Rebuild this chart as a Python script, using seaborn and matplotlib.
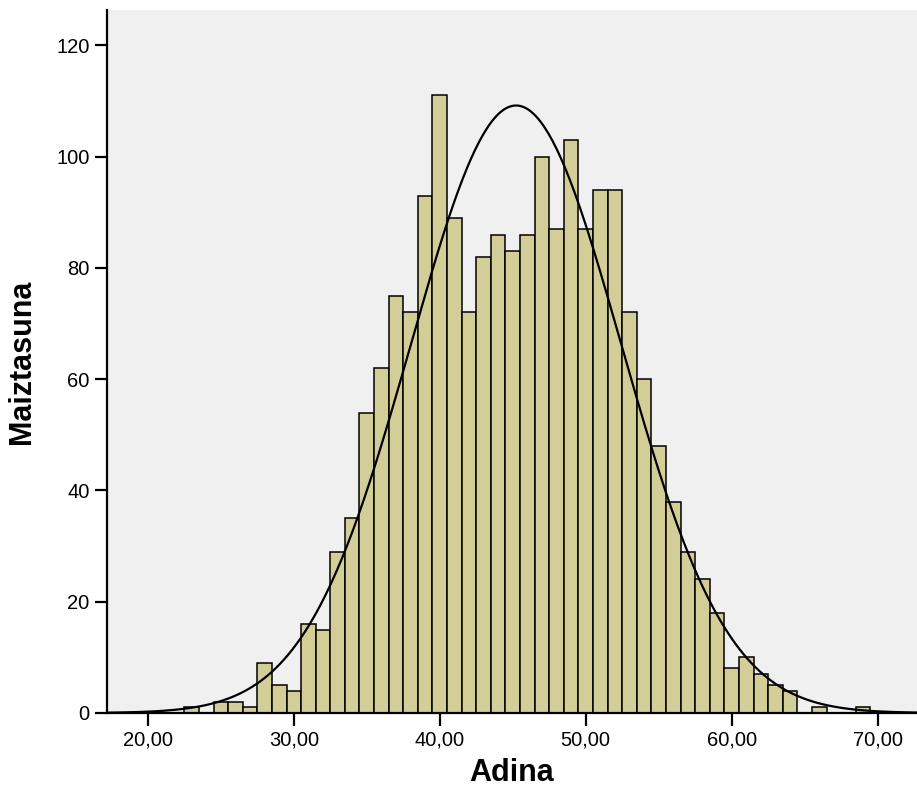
import numpy as np
import pandas as pd
import matplotlib
matplotlib.use("Agg")
import matplotlib.pyplot as plt
import seaborn as sns

sns.set_style("ticks")
plt.rcParams['font.family'] = ['Liberation Sans', 'DejaVu Sans']
plt.rcParams['text.color'] = 'black'
plt.rcParams['axes.labelcolor'] = 'black'
plt.rcParams['xtick.color'] = 'black'
plt.rcParams['ytick.color'] = 'black'

# adina (bin center) eta maiztasuna
adina = [23, 24, 25, 26, 27, 28, 29, 30, 31, 32, 33, 34, 35, 36, 37, 38, 39, 40,
         41, 42, 43, 44, 45, 46, 47, 48, 49, 50, 51, 52, 53, 54, 55, 56, 57, 58,
         59, 60, 61, 62, 63, 64, 65, 66, 67, 68, 69]
maiztasuna = [1, 0, 2, 2, 1, 9, 5, 4, 16, 15, 29, 35, 54, 62, 75, 72, 93, 111,
              89, 72, 82, 86, 83, 86, 100, 87, 103, 87, 94, 94, 72, 60, 48, 38, 29, 24,
              18, 8, 10, 7, 5, 4, 0, 1, 0, 0, 1]
xticks = [20, 30, 40, 50, 60, 70]
yticks = [0, 20, 40, 60, 80, 100, 120]

df = pd.DataFrame({'adina': adina, 'maiztasuna': maiztasuna})

# kurba normala datuetatik
n = df['maiztasuna'].sum()
mu = (df['adina'] * df['maiztasuna']).sum() / n
sd = np.sqrt((df['maiztasuna'] * (df['adina'] - mu) ** 2).sum() / (n - 1))
xs = np.linspace(17, 73, 400)
ys = n * np.exp(-0.5 * ((xs - mu) / sd) ** 2) / (sd * np.sqrt(2 * np.pi))
curve = pd.DataFrame({'x': xs, 'y': ys})

fig = plt.figure(figsize=(9.17, 7.96), dpi=100)
ax = fig.add_axes([0.1167, 0.1043, 0.8833, 0.8827])
ax.set_facecolor('#F0F0F0')

sns.histplot(data=df, x='adina', weights='maiztasuna', discrete=True,
             color='#D3CE97', edgecolor='black', linewidth=1.1, alpha=1, ax=ax)
sns.lineplot(data=curve, x='x', y='y', color='black', linewidth=1.6, ax=ax)

ax.set_xlim(17.2, 72.7)
ax.set_ylim(0, 126.3)
ax.set_xticks(xticks)
ax.set_xticklabels(["{:.2f}".format(v).replace('.', ',') for v in xticks])
ax.set_yticks(yticks)
ax.tick_params(axis='both', length=9, width=1.6, labelsize=14.5, color='black',
               labelcolor='black')

ax.set_xlabel("Adina", fontsize=22, fontweight='bold', labelpad=6, color='black')
ax.set_ylabel("Maiztasuna", fontsize=22, fontweight='bold', labelpad=14, color='black')

ax.spines['top'].set_visible(False)
ax.spines['right'].set_visible(False)
ax.spines['left'].set_linewidth(1.6)
ax.spines['bottom'].set_linewidth(1.6)
ax.spines['left'].set_color('black')
ax.spines['bottom'].set_color('black')

plt.savefig("out.png", dpi=100)
